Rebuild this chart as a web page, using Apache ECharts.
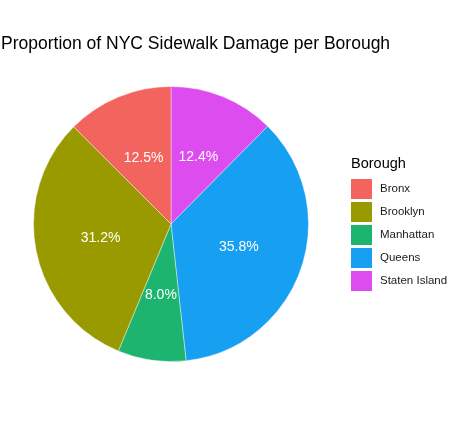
<!DOCTYPE html>
<html>
<head>
<meta charset="utf-8">
<script src="https://cdn.jsdelivr.net/npm/echarts@6/dist/echarts.min.js"></script>
<style>
html,body{margin:0;padding:0;background:#fff;}
#chart{width:449px;height:426px;}
</style>
</head>
<body>
<div id="chart"></div>
<script>
// Data (drawn clockwise from 12 o'clock)
var boroughs = ['Staten Island', 'Queens', 'Manhattan', 'Brooklyn', 'Bronx'];
var proportions = [12.4, 35.8, 8.0, 31.2, 12.5];
var legendOrder = ['Bronx', 'Brooklyn', 'Manhattan', 'Queens', 'Staten Island'];
var colorMap = {
  'Bronx': '#F4645F',
  'Brooklyn': '#999A00',
  'Manhattan': '#1CB46F',
  'Queens': '#179FF1',
  'Staten Island': '#DC4CEF'
};

var chart = echarts.init(document.getElementById('chart'), null, {renderer: 'canvas'});
var data = boroughs.map(function (b, i) {
  return {name: b, value: proportions[i], itemStyle: {color: colorMap[b]}};
});

chart.setOption({
  animation: false,
  backgroundColor: '#ffffff',
  title: [
    {
      text: 'Proportion of NYC Sidewalk Damage per Borough',
      left: 1,
      top: 35,
      padding: 0,
      textStyle: {fontFamily: 'Liberation Sans, Arial, sans-serif', fontSize: 17.5, fontWeight: 'normal', color: '#000'}
    },
    {
      text: 'Borough',
      left: 351,
      top: 156,
      padding: 0,
      textStyle: {fontFamily: 'Liberation Sans, Arial, sans-serif', fontSize: 14.5, fontWeight: 'normal', color: '#000'}
    }
  ],
  legend: {
    orient: 'vertical',
    left: 351,
    top: 179,
    padding: 0,
    itemWidth: 21,
    itemHeight: 20,
    itemGap: 3,
    icon: 'rect',
    itemStyle: {borderWidth: 0},
    data: legendOrder,
    textStyle: {fontFamily: 'Liberation Sans, Arial, sans-serif', fontSize: 11.5, lineHeight: 14, color: '#1a1a1a', padding: [0, 0, 0, 3]},
    selectedMode: false
  },
  series: [{
    type: 'pie',
    center: [171, 224],
    radius: [0, 137.5],
    startAngle: 90,
    clockwise: true,
    data: data,
    itemStyle: {borderColor: '#ffffff', borderWidth: 0.4},
    label: {
      show: true,
      position: 'inside',
      formatter: function (p) { return p.value.toFixed(1) + '%'; },
      color: '#ffffff',
      fontFamily: 'Liberation Sans, Arial, sans-serif',
      fontSize: 14
    },
    labelLine: {show: false},
    emphasis: {disabled: true}
  }]
});
</script>
</body>
</html>
